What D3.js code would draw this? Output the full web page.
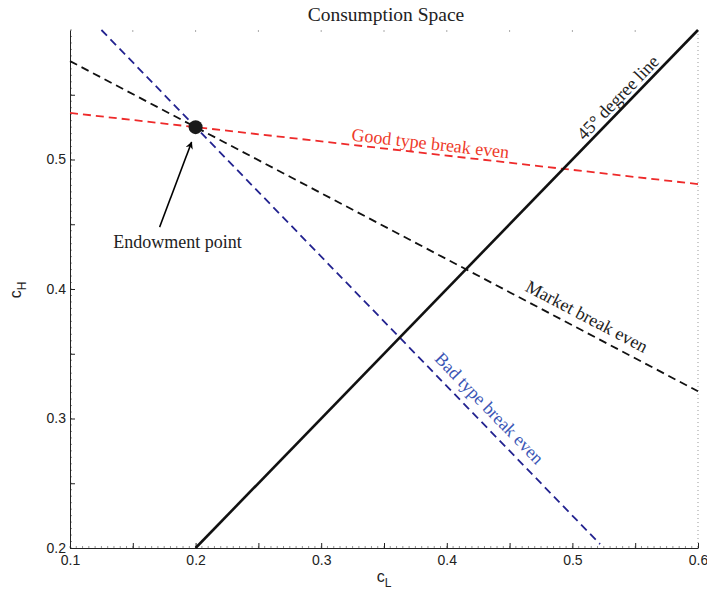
<!DOCTYPE html>
<html>
<head>
<meta charset="utf-8">
<script src="https://cdn.jsdelivr.net/npm/d3@7"></script>
<style>
  body { margin: 0; background: #fff; }
  .tick text { font-family: "Liberation Sans", Arial, sans-serif; font-size: 14px; fill: #222; }
</style>
</head>
<body>
<div id="chart"></div>
<script>
// Data
const xTickLabels = [0.1, 0.2, 0.3, 0.4, 0.5, 0.6];
const yTickLabels = [0.2, 0.3, 0.4, 0.5];
const majorX = [0.1, 0.15, 0.2, 0.25, 0.3, 0.35, 0.4, 0.45, 0.5, 0.55, 0.6];
const majorY = [0.2, 0.25, 0.3, 0.35, 0.4, 0.45, 0.5, 0.55, 0.6];

const fortyFiveLine = [[0.2, 0.2], [0.6, 0.6]];
const goodTypeLine = [[0.1, 0.536], [0.6, 0.481]];
const marketLine = [[0.1, 0.576], [0.6, 0.321]];
const badTypeLine = [[0.125, 0.6], [0.522, 0.203]];
const endowment = [0.2, 0.525];

window.onload = () => {
  var margin = { top: 30, right: 9, bottom: 46, left: 70 },
    width = 707 - margin.left - margin.right,
    height = 594 - margin.top - margin.bottom;

  var svg = d3.select("#chart")
    .append("svg")
    .attr("width", 707)
    .attr("height", 594)
    .style("display", "block");

  var g = svg.append("g").attr("transform", `translate(${margin.left},${margin.top})`);

  const x = d3.scaleLinear().domain([0.1, 0.6]).range([0, width]);
  const y = d3.scaleLinear().domain([0.2, 0.6]).range([height, 0]);

  // minor ticks, every 0.005
  const minorX = d3.range(0.1, 0.6001, 0.005);
  const minorY = d3.range(0.2, 0.6001, 0.005);

  g.append("g").selectAll("line").data(minorX).join("line")
    .attr("x1", d => x(d)).attr("x2", d => x(d))
    .attr("y1", height).attr("y2", height - 2)
    .attr("stroke", "#777").attr("stroke-width", 0.8);
  g.append("g").selectAll("line").data(minorY).join("line")
    .attr("y1", d => y(d)).attr("y2", d => y(d))
    .attr("x1", 0).attr("x2", 2)
    .attr("stroke", "#777").attr("stroke-width", 0.8);

  // top ticks (faint)
  g.append("g").selectAll("line").data(majorX.slice(1, -1)).join("line")
    .attr("x1", d => x(d)).attr("x2", d => x(d))
    .attr("y1", 0).attr("y2", 2)
    .attr("stroke", "#aaa").attr("stroke-width", 1);

  // right dotted border
  g.append("line")
    .attr("x1", width).attr("x2", width).attr("y1", 0).attr("y2", height)
    .attr("stroke", "#999").attr("stroke-width", 1).attr("stroke-dasharray", "1,3");

  // bottom axis
  var xaxis = g.append("g")
    .attr("transform", `translate(0,${height})`)
    .call(d3.axisBottom(x).tickValues(majorX).tickSize(-5).tickSizeOuter(0)
      .tickFormat(d => xTickLabels.some(v => Math.abs(v - d) < 1e-9) ? d3.format(".1f")(d) : ""));
  xaxis.select(".domain").attr("stroke", "#222");
  xaxis.selectAll(".tick line").attr("stroke", "#222");
  xaxis.selectAll(".tick text").attr("dy", "0.95em").attr("y", 4);

  // left axis
  var yaxis = g.append("g")
    .call(d3.axisLeft(y).tickValues(majorY.slice(0, -1)).tickSize(-5).tickSizeOuter(0)
      .tickFormat(d => yTickLabels.some(v => Math.abs(v - d) < 1e-9) ? d3.format(".1f")(d) : ""));
  yaxis.select(".domain").attr("stroke", "#222");
  yaxis.selectAll(".tick line").attr("stroke", "#222");
  yaxis.selectAll(".tick text").attr("x", -4);

  const line = d3.line().x(d => x(d[0])).y(d => y(d[1]));

  g.append("path").datum(goodTypeLine).attr("d", line)
    .attr("fill", "none").attr("stroke", "#ee2a2a").attr("stroke-width", 1.8)
    .attr("stroke-dasharray", "8,5");
  g.append("path").datum(marketLine).attr("d", line)
    .attr("fill", "none").attr("stroke", "#111").attr("stroke-width", 1.8)
    .attr("stroke-dasharray", "8,5");
  g.append("path").datum(badTypeLine).attr("d", line)
    .attr("fill", "none").attr("stroke", "#22228f").attr("stroke-width", 1.8)
    .attr("stroke-dasharray", "8,5");
  g.append("path").datum(fortyFiveLine).attr("d", line)
    .attr("fill", "none").attr("stroke", "#111").attr("stroke-width", 2.6);

  // endowment marker
  g.append("circle")
    .attr("cx", x(endowment[0])).attr("cy", y(endowment[1]))
    .attr("r", 7).attr("fill", "#1a1a1a");

  // arrow
  svg.append("defs").append("marker")
    .attr("id", "arrow").attr("viewBox", "0 0 10 10")
    .attr("refX", 9).attr("refY", 5)
    .attr("markerWidth", 5).attr("markerHeight", 5)
    .attr("orient", "auto")
    .append("path").attr("d", "M0,0 L10,5 L0,10 L3,5 Z").attr("fill", "#000");

  const ex = x(endowment[0]), ey = y(endowment[1]);
  g.append("line")
    .attr("x1", ex - 36).attr("y1", ey + 100)
    .attr("x2", ex - 4).attr("y2", ey + 15)
    .attr("stroke", "#000").attr("stroke-width", 1.5)
    .attr("marker-end", "url(#arrow)");

  const serif = "'Liberation Serif', 'Times New Roman', serif";

  g.append("text")
    .attr("x", ex - 18).attr("y", ey + 121)
    .attr("text-anchor", "middle")
    .style("font-family", serif).style("font-size", "18px").style("fill", "#222")
    .text("Endowment point");

  // rotated labels along lines
  function angleOf(pts) {
    const dx = x(pts[1][0]) - x(pts[0][0]);
    const dy = y(pts[1][1]) - y(pts[0][1]);
    return Math.atan2(dy, dx) * 180 / Math.PI;
  }
  function label(txt, cx, cy, pts, color) {
    g.append("text")
      .attr("transform", `translate(${x(cx)},${y(cy)}) rotate(${angleOf(pts)})`)
      .attr("text-anchor", "middle")
      .attr("dy", "0.35em")
      .style("font-family", serif).style("font-size", "18px").style("fill", color)
      .text(txt);
  }
  label("Good type break even", 0.387, 0.5127, goodTypeLine, "#ee3a2a");
  label("45\u00b0 degree line", 0.536, 0.548, fortyFiveLine, "#222");
  label("Market break even", 0.5116, 0.379, marketLine, "#222");
  label("Bad type break even", 0.434, 0.308, badTypeLine, "#3a55b5");

  // title
  svg.append("text")
    .attr("x", 386).attr("y", 21)
    .attr("text-anchor", "middle")
    .style("font-family", serif).style("font-size", "19.5px").style("fill", "#222")
    .text("Consumption Space");

  // axis labels
  const xl = svg.append("text")
    .attr("x", 384).attr("y", 582)
    .attr("text-anchor", "middle")
    .style("font-family", "'Liberation Sans', Arial, sans-serif").style("font-size", "16px").style("fill", "#222");
  xl.append("tspan").text("c");
  xl.append("tspan").attr("dy", 5).style("font-size", "12px").text("L");

  const yl = svg.append("text")
    .attr("transform", "translate(21,290) rotate(-90)")
    .attr("text-anchor", "middle")
    .style("font-family", "'Liberation Sans', Arial, sans-serif").style("font-size", "16px").style("fill", "#222");
  yl.append("tspan").text("c");
  yl.append("tspan").attr("dy", 5).style("font-size", "12px").text("H");
};
</script>
</body>
</html>
